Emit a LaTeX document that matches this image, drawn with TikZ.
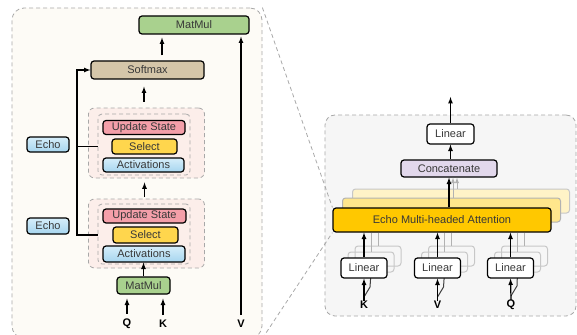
\documentclass[tikz,border=0pt]{standalone}
\usepackage{fontspec}
\setmainfont{Liberation Sans}
\usepackage{tikz}
\usetikzlibrary{positioning}

\definecolor{creamfill}{HTML}{FDFBF6}
\definecolor{panelgray}{HTML}{F6F6F6}
\definecolor{pinkfill}{HTML}{FCEEEA}
\definecolor{dashgray}{HTML}{A8A8A8}
\definecolor{matgreen}{HTML}{A9D18E}
\definecolor{softtan}{HTML}{D5C6A9}
\definecolor{statered}{HTML}{F49FA9}
\definecolor{selyellow}{HTML}{FFD64D}
\definecolor{acttop}{HTML}{D6EEFA}
\definecolor{actbot}{HTML}{A6D5EF}
\definecolor{catlilac}{HTML}{E2D8EC}
\definecolor{echogold}{HTML}{FFC800}

\begin{document}
\begin{tikzpicture}[x=1pt, y=-1pt, >=latex,
        panel/.style = {draw=dashgray, line width=0.8pt, dash pattern=on 4pt off 3pt, inner sep=0pt},
        blk/.style = {draw=black, line width=1.2pt, rounded corners=3pt, inner sep=0pt, text=black!78, font=\fontsize{11}{12}\selectfont},
        echobox/.style = {blk, top color=acttop, bottom color=actbot},
        ghost/.style = {draw=black!22, line width=1pt, rounded corners=3pt, inner sep=0pt},
        lbl/.style = {inner sep=0pt, font=\fontsize{11}{12}\selectfont\bfseries},
        wire/.style = {line width=1.2pt},
        faint/.style = {line width=0.9pt, black!30},
        hook/.style = {line width=1pt, black!75},
        link/.style = {draw=dashgray, line width=0.8pt, dash pattern=on 4pt off 3pt}]
    \useasboundingbox (0,0) rectangle (577,334);

    % left panel: echo attention
    \node[panel, rounded corners=12pt, fill=creamfill, minimum width=250pt, minimum height=330pt] (attn) at (137,173) {};

    \node[blk, fill=matgreen, minimum width=110pt, minimum height=18pt] (mmtop) at (194,25) {MatMul};
    \node[blk, fill=softtan, minimum width=113pt, minimum height=18pt] (smx) at (147.5,70) {Softmax};

    % upper echo group
    \node[panel, rounded corners=6pt, fill=pinkfill, minimum width=116pt, minimum height=70pt] (grpA) at (146.5,143) {};
    \node[panel, rounded corners=4pt, minimum width=92pt, minimum height=61pt] (grpAin) at (144,144.5) {};
    \node[blk, fill=statered, minimum width=82pt, minimum height=14pt] (usA) at (144,127.5) {Update State};
    \node[blk, fill=selyellow, minimum width=65pt, minimum height=15pt] (selA) at (144.5,146.5) {Select};
    \node[echobox, minimum width=81pt, minimum height=14pt] (actA) at (143.5,165) {Activations};

    % lower echo group
    \node[panel, rounded corners=6pt, fill=pinkfill, minimum width=116pt, minimum height=69pt] (grpB) at (146.5,233.5) {};
    \node[panel, rounded corners=4pt, minimum width=92pt, minimum height=60pt] (grpBin) at (144,234) {};
    \node[blk, fill=statered, minimum width=83pt, minimum height=14pt] (usB) at (144.5,216) {Update State};
    \node[blk, fill=selyellow, minimum width=65pt, minimum height=16pt] (selB) at (145.5,235) {Select};
    \node[echobox, minimum width=82pt, minimum height=16pt] (actB) at (144,254) {Activations};

    \node[blk, fill=matgreen, minimum width=53pt, minimum height=17pt] (mmlow) at (143.5,285.5) {MatMul};

    \node[echobox, minimum width=42pt, minimum height=15pt] (echoA) at (48,144.5) {Echo};
    \node[echobox, minimum width=42pt, minimum height=16pt] (echoB) at (48,226) {Echo};

    \node[lbl] (qin) at (127,324) {Q};
    \node[lbl] (kin) at (163,324) {K};
    \node[lbl] (vin) at (241,324) {V};

    % echo bus into softmax
    \coordinate (bus) at (77,0);
    \draw[->, wire] (grpBin.west |- selB) -- (bus |- selB) -- (bus |- smx) -- (smx.west);
    \draw[wire] (grpAin.west |- selA) -- (bus |- selA);

    \draw[->, wire, shorten <=5pt, shorten >=3pt] ([xshift=14.5pt]smx.north) -- ([xshift=14.5pt]smx.north |- mmtop.south);
    \draw[->, wire, shorten <=6pt, shorten >=7pt] (grpA.north -| usA) -- (usA |- smx.south);
    \draw[->, wire, shorten <=2pt, shorten >=4pt] (grpB.north -| usB) -- (usB |- grpA.south);
    \draw[->, wire] (mmlow.north) -- (mmlow.north |- actB.south);
    \draw[->, wire, shorten <=5pt, shorten >=4pt] (qin.north) -- (qin.north |- mmlow.south);
    \draw[->, wire, shorten <=5pt, shorten >=4pt] (kin.north) -- (kin.north |- mmlow.south);
    \draw[->, wire, shorten <=5pt, shorten >=2pt] (vin.north) -- (vin.north |- mmtop.south);

    % right panel: multi-headed version
    \node[panel, rounded corners=10pt, fill=panelgray, minimum width=251pt, minimum height=201pt] (mhpanel) at (450.5,215.5) {};

    \node[blk, fill=white, minimum width=47pt, minimum height=20pt] (linout) at (450.5,134) {Linear};
    \node[blk, fill=catlilac, minimum width=96pt, minimum height=17pt] (cat) at (449,168.5) {Concatenate};

    \node[ghost, fill=echogold!22, minimum width=217pt, minimum height=24pt] (mhaB) at (461,201) {};
    \node[ghost, draw=black!30, fill=echogold!45, minimum width=218pt, minimum height=24pt] (mhaA) at (451.5,210) {};
    \draw[->, faint] ([xshift=4pt]cat.south |- mhaA.north) -- ([xshift=4pt]cat.south);
    \draw[->, faint] ([xshift=8pt]cat.south |- mhaB.north) -- ([xshift=8pt]cat.south);
    \node[blk, fill=echogold, minimum width=218pt, minimum height=24pt] (mha) at (442,220) {Echo Multi-headed Attention};

    \draw[->, wire] (mha.north -| cat) -- (cat.south);
    \draw[->, wire] (cat.north -| linout) -- (linout.south);
    \coordinate (out) at (450.5,97);
    \draw[->, wire] (linout.north) -- (out);

    \node[lbl] (kin2) at (364,305) {K};
    \node[lbl] (vin2) at (437.5,305) {V};
    \node[lbl] (qin2) at (511,305) {Q};

    % K head
    \node[ghost, minimum width=46pt, minimum height=20pt] (linK2) at (378,256) {};
    \node[ghost, minimum width=46pt, minimum height=20pt] (linK1) at (371,262) {};
    \draw[faint] (linK2.north) -- (linK2.north |- mha.south);
    \draw[faint] (linK1.north) -- (linK1.north |- mha.south);
    \draw[hook] ([yshift=4pt]kin2.north) -- ++(6,-10) -- (linK1.south);
    \node[blk, fill=white, minimum width=46pt, minimum height=20pt] (linK) at (364,268) {Linear};
    \draw[->, wire] (linK.north) -- (linK.north |- mha.south);
    \draw[->, wire] (kin2.north) -- (linK.south);

    % V head
    \node[ghost, minimum width=46pt, minimum height=20pt] (linV2) at (451.5,256) {};
    \node[ghost, minimum width=46pt, minimum height=20pt] (linV1) at (444.5,262) {};
    \draw[faint] (linV2.north) -- (linV2.north |- mha.south);
    \draw[faint] (linV1.north) -- (linV1.north |- mha.south);
    \draw[hook] ([yshift=4pt]vin2.north) -- ++(6,-10) -- (linV1.south);
    \node[blk, fill=white, minimum width=46pt, minimum height=20pt] (linV) at (437.5,268) {Linear};
    \draw[->, wire] (linV.north) -- (linV.north |- mha.south);
    \draw[->, wire] (vin2.north) -- (linV.south);

    % Q head
    \node[ghost, minimum width=46pt, minimum height=20pt] (linQ2) at (524.5,256) {};
    \node[ghost, minimum width=46pt, minimum height=20pt] (linQ1) at (517.5,262) {};
    \draw[faint] (linQ2.north) -- (linQ2.north |- mha.south);
    \draw[faint] (linQ1.north) -- (linQ1.north |- mha.south);
    \draw[hook] ([yshift=4pt]qin2.north) -- ++(6,-10) -- (linQ1.south);
    \node[blk, fill=white, minimum width=46pt, minimum height=20pt] (linQ) at (510.5,268) {Linear};
    \draw[->, wire] (linQ.north) -- (linQ.north |- mha.south);
    \draw[->, wire] (qin2.north) -- (linQ.south);

    % zoom lines between the panels
    \draw[link] (attn.north east) -- (mha.north west);
    \draw[link] (attn.south east) -- (mha.south west);
\end{tikzpicture}
\end{document}
